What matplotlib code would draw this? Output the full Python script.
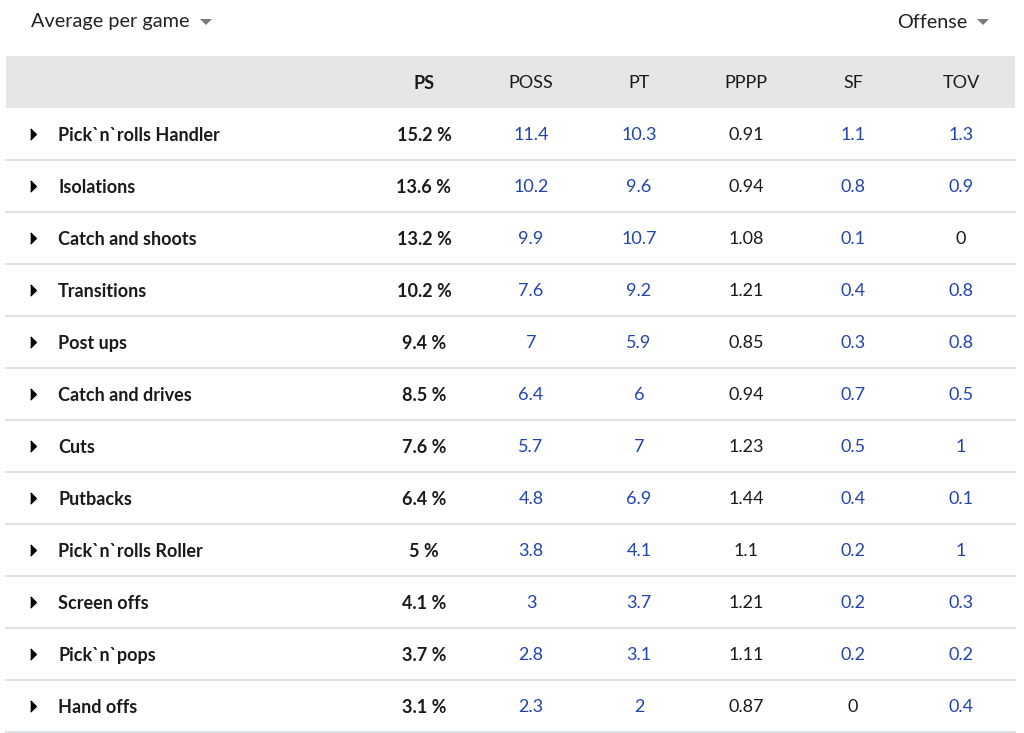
import matplotlib
matplotlib.use("Agg")
import matplotlib.pyplot as plt
from matplotlib.patches import Polygon, Rectangle

plt.rcParams['font.family'] = ['Lato', 'DejaVu Sans']

categories = ["Pick`n`rolls Handler", "Isolations", "Catch and shoots", "Transitions",
              "Post ups", "Catch and drives", "Cuts", "Putbacks", "Pick`n`rolls Roller",
              "Screen offs", "Pick`n`pops", "Hand offs"]
ps = ["15.2 %", "13.6 %", "13.2 %", "10.2 %", "9.4 %", "8.5 %", "7.6 %", "6.4 %", "5 %", "4.1 %", "3.7 %", "3.1 %"]
poss = ["11.4", "10.2", "9.9", "7.6", "7", "6.4", "5.7", "4.8", "3.8", "3", "2.8", "2.3"]
pt = ["10.3", "9.6", "10.7", "9.2", "5.9", "6", "7", "6.9", "4.1", "3.7", "3.1", "2"]
pppp = ["0.91", "0.94", "1.08", "1.21", "0.85", "0.94", "1.23", "1.44", "1.1", "1.21", "1.11", "0.87"]
sf = ["1.1", "0.8", "0.1", "0.4", "0.3", "0.7", "0.5", "0.4", "0.2", "0.2", "0.2", "0"]
tov = ["1.3", "0.9", "0", "0.8", "0.8", "0.5", "1", "0.1", "1", "0.3", "0.2", "0.4"]
headers = ["PS", "POSS", "PT", "PPPP", "SF", "TOV"]

BLUE = "#2343b0"
DARK = "#1a1a1a"

fig = plt.figure(figsize=(10.24, 7.33), dpi=100)
ax = fig.add_axes([0, 0, 1, 1])
ax.set_xlim(0, 1024)
ax.set_ylim(733, 0)
ax.axis("off")

def dropdown(x, y):
    ax.add_patch(Polygon([(x - 6, y - 3), (x + 6, y - 3), (x, y + 3)], closed=True,
                         color="#7a7a7a", lw=0))

# top controls
ax.text(31, 22, "Average per game", fontsize=14.3, color="#222222", va="center", ha="left")
dropdown(206, 22)
ax.text(967, 22, "Offense", fontsize=14.3, color="#222222", va="center", ha="right")
dropdown(983, 22)

# header band
ax.add_patch(Rectangle((6, 56), 1009, 52, color="#e6e6e6", lw=0))
col_x = [424, 531, 639, 746, 853, 961]
for j, h in enumerate(headers):
    ax.text(col_x[j], 83.5, h, fontsize=13, color=DARK, ha="center", va="center",
            fontweight="bold" if j == 0 else "normal")

row_h = 52
y0 = 134
cols = [ps, poss, pt, pppp, sf, tov]
blue_cols = {1, 2, 4, 5}
tri = [(-0.5, -1), (0.5, 0), (-0.5, 1)]
for i, name in enumerate(categories):
    y = y0 + i * row_h
    ax.plot([33], [y], marker=tri, color="black", markersize=8)
    ax.text(58, y + 1.5, name, fontsize=13, color=DARK, ha="left", va="center", fontweight="bold")
    for j, col in enumerate(cols):
        v = col[i]
        color = BLUE if (j in blue_cols and v != "0") else DARK
        ax.text(col_x[j], y + 1.5, v, fontsize=13, color=color, ha="center", va="center",
                fontweight="bold" if j == 0 else "normal")
    ax.plot([6, 1015], [y + 26, y + 26], color="#dfe2e5", lw=1.5)

fig.savefig("out.png", dpi=100)
